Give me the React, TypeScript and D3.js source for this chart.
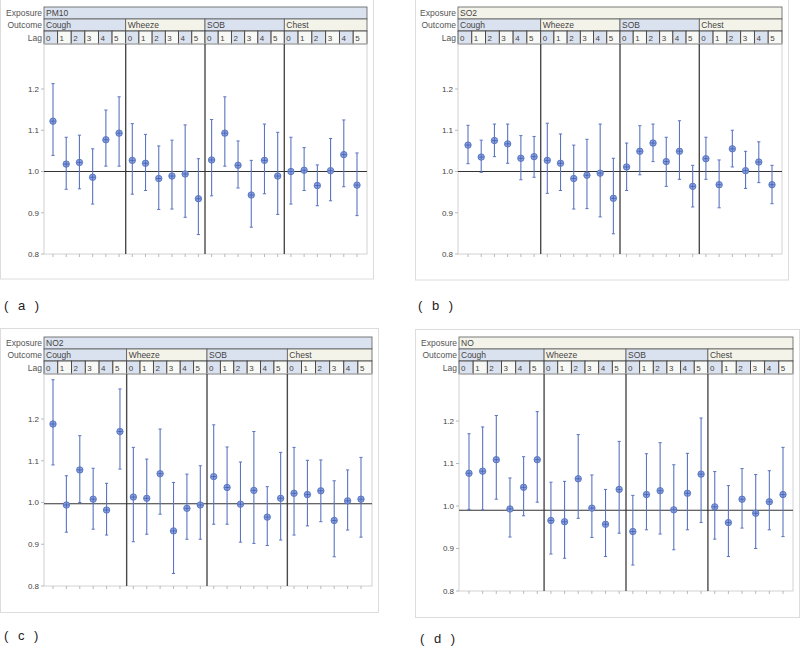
import React from "react";
import * as d3 from "d3";

const outcomes = ["Cough", "Wheeze", "SOB", "Chest"];
const lags = ["0", "1", "2", "3", "4", "5"];
const yTicks = [0.8, 0.9, 1.0, 1.1, 1.2];
const exposures = ["PM10", "SO2", "NO2", "NO"];
const panelLabels = ["( a )", "( b )", "( c )", "( d )"];
const refValues = [1.0, 1.0, 0.997, 0.99];

// estimates per exposure: 24 values (Cough 0-5, Wheeze 0-5, SOB 0-5, Chest 0-5)
const pm10Est = [1.122, 1.018, 1.022, 0.986, 1.077, 1.093, 1.027, 1.02, 0.983, 0.989, 0.994, 0.934, 1.028, 1.093, 1.015, 0.943, 1.027, 0.989, 1.0, 1.003, 0.966, 1.002, 1.041, 0.967];
const pm10Up = [1.213, 1.083, 1.088, 1.055, 1.149, 1.181, 1.116, 1.09, 1.062, 1.076, 1.113, 1.031, 1.126, 1.181, 1.074, 1.027, 1.115, 1.095, 1.083, 1.058, 1.016, 1.08, 1.125, 1.045];
const pm10Lo = [1.039, 0.957, 0.958, 0.921, 1.013, 1.013, 0.945, 0.954, 0.908, 0.909, 0.889, 0.847, 0.941, 1.013, 0.96, 0.865, 0.946, 0.896, 0.921, 0.954, 0.917, 0.929, 0.963, 0.893];

const so2Est = [1.064, 1.035, 1.075, 1.067, 1.032, 1.036, 1.027, 1.02, 0.983, 0.991, 0.996, 0.935, 1.011, 1.049, 1.069, 1.024, 1.049, 0.964, 1.031, 0.968, 1.055, 1.002, 1.023, 0.968];
const so2Up = [1.112, 1.076, 1.115, 1.115, 1.087, 1.085, 1.117, 1.091, 1.064, 1.078, 1.115, 1.032, 1.069, 1.111, 1.115, 1.083, 1.123, 1.015, 1.083, 1.028, 1.1, 1.049, 1.072, 1.015];
const so2Lo = [1.019, 0.998, 1.036, 1.02, 0.98, 0.986, 0.947, 0.954, 0.909, 0.91, 0.89, 0.849, 0.954, 0.992, 1.024, 0.964, 0.981, 0.914, 0.981, 0.912, 1.011, 0.959, 0.973, 0.922];

const no2Est = [1.188, 0.994, 1.078, 1.008, 0.982, 1.17, 1.013, 1.01, 1.069, 0.932, 0.986, 0.994, 1.062, 1.036, 0.996, 1.029, 0.965, 1.01, 1.022, 1.019, 1.028, 0.957, 1.004, 1.008];
const no2Up = [1.294, 1.064, 1.16, 1.082, 1.046, 1.272, 1.132, 1.104, 1.176, 1.048, 1.068, 1.088, 1.186, 1.133, 1.097, 1.17, 1.038, 1.12, 1.132, 1.101, 1.102, 1.052, 1.078, 1.108];
const no2Lo = [1.09, 0.929, 1.0, 0.936, 0.922, 1.08, 0.906, 0.924, 0.972, 0.83, 0.912, 0.912, 0.948, 0.948, 0.905, 0.902, 0.897, 0.91, 0.922, 0.944, 0.954, 0.87, 0.934, 0.917];

const noEst = [1.077, 1.082, 1.109, 0.993, 1.044, 1.109, 0.966, 0.963, 1.064, 0.995, 0.957, 1.039, 0.94, 1.027, 1.036, 0.991, 1.03, 1.075, 0.998, 0.961, 1.016, 0.983, 1.01, 1.027];
const noUp = [1.17, 1.186, 1.213, 1.066, 1.116, 1.222, 1.056, 1.058, 1.168, 1.073, 1.039, 1.152, 1.025, 1.123, 1.149, 1.097, 1.124, 1.207, 1.081, 1.048, 1.088, 1.074, 1.083, 1.138];
const noLo = [0.992, 0.991, 1.016, 0.927, 0.977, 1.009, 0.887, 0.877, 0.971, 0.926, 0.881, 0.936, 0.861, 0.944, 0.934, 0.897, 0.944, 0.961, 0.922, 0.881, 0.948, 0.9, 0.944, 0.928];

const estimates = [pm10Est, so2Est, no2Est, noEst];
const uppers = [pm10Up, so2Up, no2Up, noUp];
const lowers = [pm10Lo, so2Lo, no2Lo, noLo];

// layout (pixel geometry, not data)
const layouts = [
  { fx: 0.5, fy: -1, fw: 373, fh: 280, l: 44, r: 367, top: 44, bottom: 254, y08: 254, y12: 89, p0: 53, p1: 357, lx: 4, ly: 310, expBlue: true },
  { fx: 415.5, fy: -1, fw: 373, fh: 281, l: 458, r: 782, top: 44, bottom: 254, y08: 254, y12: 89, p0: 468, p1: 772, lx: 418, ly: 310, expBlue: false },
  { fx: 0.5, fy: 328.5, fw: 378, fh: 284, l: 44, r: 372, top: 374, bottom: 586, y08: 586, y12: 419, p0: 53, p1: 361, lx: 4, ly: 640, expBlue: true },
  { fx: 415.5, fy: 329.5, fw: 384, fh: 288, l: 459, r: 793, top: 374, bottom: 591, y08: 591, y12: 421, p0: 469, p1: 783, lx: 420, ly: 643, expBlue: false },
];

const BLUE = "#dbe2ef";
const BEIGE = "#f4f3e9";
const FONT = "'Liberation Sans', Arial, sans-serif";

function Panel({ idx }: { idx: number }) {
  const L = layouts[idx];
  const est = estimates[idx];
  const up = uppers[idx];
  const lo = lowers[idx];
  const cats = d3.range(24);
  const x = d3.scalePoint<number>().domain(cats).range([L.p0, L.p1]);
  const y = d3.scaleLinear().domain([0.8, 1.2]).range([L.y08, L.y12]);
  const seps = [1, 2, 3].map((g) => (x(g * 6 - 1)! + x(g * 6)!) / 2);
  const bounds = [L.l, ...seps, L.r];
  const hTop = L.top - 37;
  const rowE = [hTop, hTop + 12];
  const rowO = [hTop + 12, hTop + 24];
  const rowL = [hTop + 24, L.top];
  const stroke = "#5a5a5a";
  const eb = "#5b75c0";

  return (
    <g>
      <rect x={L.fx} y={L.fy} width={L.fw} height={L.fh} fill="#fff" stroke="#dcdcdc" strokeWidth={1} />
      <text x={L.l - 2} y={rowE[1] - 3} textAnchor="end" fontSize={8.5} fill="#555" fontFamily={FONT}>Exposure</text>
      <text x={L.l - 2} y={rowO[1] - 3} textAnchor="end" fontSize={8.5} fill="#555" fontFamily={FONT}>Outcome</text>
      <text x={L.l - 2} y={rowL[1] - 3.5} textAnchor="end" fontSize={8.5} fill="#555" fontFamily={FONT}>Lag</text>
      <rect x={L.l} y={rowE[0]} width={L.r - L.l} height={rowE[1] - rowE[0]} fill={L.expBlue ? BLUE : BEIGE} stroke={stroke} strokeWidth={0.8} />
      <text x={L.l + 2} y={rowE[1] - 3} fontSize={8.5} fill="#444" fontFamily={FONT}>{exposures[idx]}</text>
      {outcomes.map((o, i) => (
        <g key={o}>
          <rect x={bounds[i]} y={rowO[0]} width={bounds[i + 1] - bounds[i]} height={rowO[1] - rowO[0]} fill={i % 2 === 0 ? BLUE : BEIGE} stroke={stroke} strokeWidth={0.8} />
          <text x={bounds[i] + 2} y={rowO[1] - 3} fontSize={8.5} fill="#444" fontFamily={FONT}>{o}</text>
        </g>
      ))}
      {outcomes.map((o, i) => {
        const w = (bounds[i + 1] - bounds[i]) / lags.length;
        return lags.map((lg, j) => (
          <g key={o + lg}>
            <rect x={bounds[i] + j * w} y={rowL[0]} width={w} height={rowL[1] - rowL[0]} fill={j % 2 === 0 ? BLUE : "#f8f8f4"} stroke="#444" strokeWidth={0.9} />
            <text x={bounds[i] + j * w + 2} y={rowL[1] - 3.5} fontSize={8} fill="#444" fontFamily={FONT}>{lg}</text>
          </g>
        ));
      })}
      <rect x={L.l} y={L.top} width={L.r - L.l} height={L.bottom - L.top} fill="none" stroke="#d2d2d2" strokeWidth={1} />
      {yTicks.map((t) => (
        <g key={t}>
          <line x1={L.l - 3} x2={L.l} y1={y(t)} y2={y(t)} stroke="#aaa" strokeWidth={0.8} />
          <text x={L.l - 5} y={y(t) + 2.8} textAnchor="end" fontSize={8} fill="#444" fontFamily={FONT}>{t.toFixed(1)}</text>
        </g>
      ))}
      {cats.map((c) => (
        <line key={c} x1={x(c)} x2={x(c)} y1={L.bottom} y2={L.bottom + 3} stroke="#aaa" strokeWidth={0.8} />
      ))}
      {seps.map((s, i) => (
        <line key={i} x1={s} x2={s} y1={L.top} y2={L.bottom} stroke="#4a4a4a" strokeWidth={1.4} />
      ))}
      <line x1={L.l} x2={L.r} y1={y(refValues[idx])} y2={y(refValues[idx])} stroke="#333" strokeWidth={1.1} />
      {cats.map((c) => {
        const cx = x(c)!;
        const cy = y(est[c]);
        return (
          <g key={c}>
            <line x1={cx} x2={cx} y1={y(lo[c])} y2={y(up[c])} stroke={eb} strokeWidth={1.1} />
            <line x1={cx - 1.6} x2={cx + 1.6} y1={y(lo[c])} y2={y(lo[c])} stroke={eb} strokeWidth={1} />
            <line x1={cx - 1.6} x2={cx + 1.6} y1={y(up[c])} y2={y(up[c])} stroke={eb} strokeWidth={1} />
            <circle cx={cx} cy={cy} r={3.2} fill="#8aa3e2" stroke="#5470c0" strokeWidth={0.9} />
            <line x1={cx - 2.6} x2={cx + 2.6} y1={cy} y2={cy} stroke="#3a55a5" strokeWidth={0.7} />
            <line x1={cx} x2={cx} y1={cy - 2.6} y2={cy + 2.6} stroke="#3a55a5" strokeWidth={0.7} />
          </g>
        );
      })}
      <text x={L.lx} y={L.ly} fontSize={13} fill="#222" fontFamily={FONT} wordSpacing={6} style={{ whiteSpace: "pre" }}>{panelLabels[idx]}</text>
    </g>
  );
}

export default function App() {
  return (
    <svg width={800} height={649} style={{ position: "absolute", left: 0, top: 0, background: "#fff" }}>
      <rect x={0} y={0} width={800} height={649} fill="#fff" />
      {[0, 1, 2, 3].map((i) => (
        <Panel key={i} idx={i} />
      ))}
    </svg>
  );
}
